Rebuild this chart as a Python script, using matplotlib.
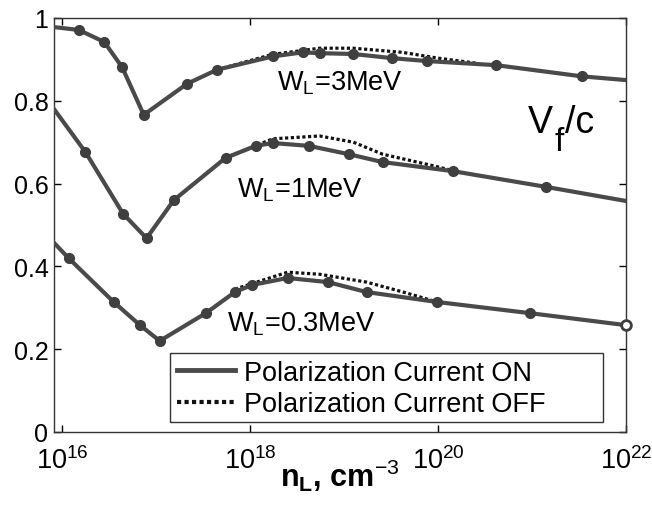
import matplotlib.pyplot as plt
from matplotlib.patches import Rectangle
import numpy as np

plt.rcParams['font.family'] = ['Liberation Sans', 'DejaVu Sans']
plt.rcParams['mathtext.fontset'] = 'custom'
plt.rcParams['mathtext.rm'] = 'Liberation Sans'
plt.rcParams['mathtext.it'] = 'Liberation Sans'
plt.rcParams['mathtext.bf'] = 'Liberation Sans:bold'

# log10 of density n_L (cm^-3) and V_f/c, polarization current ON
logn_3 = [15.915, 16.18, 16.45, 16.64, 16.87, 17.33, 17.65, 18.24, 18.56, 18.74,
          19.10, 19.51, 19.88, 20.62, 21.53, 22.0]
v_3 = [0.978, 0.971, 0.942, 0.881, 0.766, 0.841, 0.875, 0.907, 0.917, 0.915,
       0.913, 0.903, 0.896, 0.886, 0.859, 0.850]

logn_1 = [15.915, 16.25, 16.65, 16.90, 17.19, 17.74, 18.06, 18.24, 18.63,
          19.05, 19.41, 20.16, 21.15, 22.0]
v_1 = [0.780, 0.676, 0.527, 0.468, 0.560, 0.662, 0.691, 0.698, 0.691,
       0.671, 0.652, 0.630, 0.592, 0.558]

logn_03 = [15.915, 16.07, 16.55, 16.83, 17.04, 17.53, 17.84, 18.02, 18.40, 18.83,
           19.24, 19.99, 20.98, 22.0]
v_03 = [0.457, 0.420, 0.314, 0.258, 0.220, 0.287, 0.338, 0.355, 0.372, 0.362,
        0.338, 0.314, 0.287, 0.258]

# polarization current OFF (only where it departs from ON)
logn_3_off = [17.65, 18.24, 18.74, 19.10, 19.62, 20.0, 20.4]
v_3_off = [0.875, 0.912, 0.927, 0.927, 0.917, 0.903, 0.891]

logn_1_off = [17.74, 18.24, 18.74, 19.10, 19.41, 19.95, 20.2]
v_1_off = [0.662, 0.708, 0.715, 0.700, 0.671, 0.643, 0.629]

logn_03_off = [17.84, 18.40, 18.74, 19.24, 19.63, 19.99]
v_03_off = [0.345, 0.386, 0.381, 0.362, 0.338, 0.314]

curve_labels = [r'W$_\mathregular{L}$=3MeV', r'W$_\mathregular{L}$=1MeV',
                r'W$_\mathregular{L}$=0.3MeV']
legend_labels = ['Polarization Current ON', 'Polarization Current OFF']

ON_COLOR = '#4a4a4a'
OFF_COLOR = '#111111'
OFF_STYLE = (0, (1.0, 0.8))

fig = plt.figure(figsize=(6.52, 5.06), dpi=100)
ax = fig.add_axes([0.0828, 0.1443, 0.8773, 0.8182])

on_sets = [(logn_3, v_3), (logn_1, v_1), (logn_03, v_03)]
off_sets = [(logn_3_off, v_3_off), (logn_1_off, v_1_off), (logn_03_off, v_03_off)]

for (xo, yo) in off_sets:
    ax.plot(10.0 ** np.array(xo), yo, color=OFF_COLOR, lw=2.3,
            linestyle=OFF_STYLE, zorder=2)

for xs, ys in on_sets:
    x = 10.0 ** np.array(xs)
    ax.plot(x, ys, color=ON_COLOR, lw=3, zorder=3)
    ax.plot(x[1:-1], ys[1:-1], 'o', color='#3f3f3f', ms=7, zorder=4)
ax.plot(10.0 ** logn_03[-1], v_03[-1], 'o', mfc='white', mec='#3f3f3f',
        mew=2, ms=7, zorder=4, clip_on=False)

# legend handles
h_on, = ax.plot([], [], color=ON_COLOR, lw=3.5)
h_off, = ax.plot([], [], color=OFF_COLOR, lw=3, linestyle=OFF_STYLE)

ax.set_xscale('log')
ax.set_xlim(10 ** 15.915, 1e22)
ax.set_ylim(0, 1)
ax.set_xticks([1e16, 1e18, 1e20, 1e22])
ax.minorticks_off()
ax.set_yticks([0, 0.2, 0.4, 0.6, 0.8, 1.0])
ax.set_yticklabels(['0', '0.2', '0.4', '0.6', '0.8', '1'])
ax.tick_params(direction='in', length=5, width=1, top=True, right=True, pad=4)
ax.tick_params(axis='y', labelsize=18)
ax.tick_params(axis='x', labelsize=19.5, pad=10)
for s in ax.spines.values():
    s.set_linewidth(1)
    s.set_color('#333333')

ax.text(10 ** 18.29, 0.828, curve_labels[0], fontsize=19.5)
ax.text(10 ** 17.86, 0.568, curve_labels[1], fontsize=19.5)
ax.text(10 ** 17.755, 0.246, curve_labels[2], fontsize=19.5)

# V_f/c label with a large, low subscript
vf_x, vf_y = 10 ** 20.957, 0.725
ax.annotate('V', (vf_x, vf_y), xytext=(0, 0), textcoords='offset points',
            fontsize=27)
ax.annotate('f', (vf_x, vf_y), xytext=(19, -13), textcoords='offset points',
            fontsize=24)
ax.annotate('/c', (vf_x, vf_y), xytext=(27, 0), textcoords='offset points',
            fontsize=27)

ax.set_xlabel(r'n$_\mathregular{L}$, cm$^{\mathrm{-3}}$', fontsize=22,
              fontweight='bold', labelpad=-12)

# MATLAB-style legend: box drawn separately, wide right margin
ax.add_patch(Rectangle((0.2028, 0.0242), 0.7569, 0.1667, transform=ax.transAxes,
                       facecolor='white', edgecolor='#333333', lw=1, zorder=5))
leg = ax.legend([h_on, h_off], legend_labels, loc='upper left',
                bbox_to_anchor=(0.2028, 0.1909), fontsize=19.5, frameon=False,
                handlelength=2.15, borderpad=0.1, labelspacing=0.2,
                handletextpad=0.35, borderaxespad=0.15)
leg.set_zorder(6)

fig.savefig('out.png', dpi=100)
